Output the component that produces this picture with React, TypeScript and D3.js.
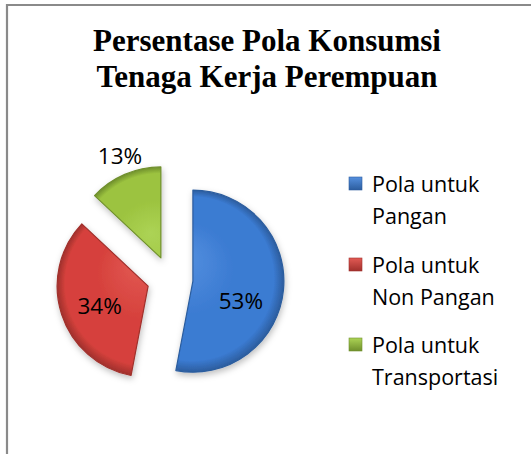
import React from "react";
import * as d3 from "d3";

const titleLines = ["Persentase Pola Konsumsi", "Tenaga Kerja Perempuan"];
const categories = ["Pola untuk Pangan", "Pola untuk Non Pangan", "Pola untuk Transportasi"];
const legendLines = [["Pola untuk", "Pangan"], ["Pola untuk", "Non Pangan"], ["Pola untuk", "Transportasi"]];
const values = [53, 34, 13];
const labels = ["53%", "34%", "13%"];

const baseColors = ["#3b7bd2", "#d6413c", "#9cc33f"];
const lightColors = ["#5590df", "#e25a54", "#acd355"];
const darkColors = ["#2c5d9e", "#a0302c", "#6f8f2c"];

const W = 531;
const H = 454;
const cx = 170;
const cy = 279;
const R = 91;
const explode = 23;
// label placement (fraction of radius along mid-angle, plus vertical nudge)
const labelLayout = [
  { k: 0.53, dy: 15 },
  { k: 0.56, dy: 4 },
  { k: 1.13, dy: -8 },
];

export default function App() {
  const pie = d3.pie<number>().sort(null).value((d) => d);
  const arcs = pie(values);
  const arc = d3.arc<d3.PieArcDatum<number>>().innerRadius(0).outerRadius(R);

  const legendX = 349;
  const legendTop = [177, 258, 338];

  return (
    <div style={{ position: "fixed", left: 0, top: 0, width: W, height: H, background: "#fff" }}>
      <svg width={W} height={H} style={{ display: "block" }}>
        <defs>
          <filter id="shadow" x="-30%" y="-30%" width="160%" height="160%">
            <feDropShadow dx="1" dy="3" stdDeviation="3" floodColor="#000" floodOpacity="0.25" />
          </filter>
          {arcs.map((a, i) => (
            <radialGradient
              key={i}
              id={`g${i}`}
              gradientUnits="userSpaceOnUse"
              cx={0}
              cy={0}
              r={R}
              fx={-10}
              fy={-25}
            >
              <stop offset="0%" stopColor={lightColors[i]} />
              <stop offset="50%" stopColor={baseColors[i]} />
              <stop offset="90%" stopColor={baseColors[i]} />
              <stop offset="100%" stopColor={darkColors[i]} />
            </radialGradient>
          ))}
          {baseColors.map((c, i) => (
            <linearGradient key={i} id={`lg${i}`} x1="0" y1="0" x2="0" y2="1">
              <stop offset="0%" stopColor={lightColors[i]} />
              <stop offset="100%" stopColor={darkColors[i]} />
            </linearGradient>
          ))}
        </defs>

        {/* frame */}
        <path d={`M7,${H + 5} L7,5 L${W + 5},5`} fill="none" stroke="#8a8a8a" strokeWidth={2.2} />

        {/* title */}
        <text
          x={267}
          textAnchor="middle"
          fontFamily="'Liberation Serif', 'Times New Roman', serif"
          fontWeight="bold"
          fontSize={31}
          fill="#000"
        >
          {titleLines.map((t, i) => (
            <tspan key={i} x={267} y={51 + i * 36}>
              {t}
            </tspan>
          ))}
        </text>

        {/* pie */}
        <g filter="url(#shadow)">
          {arcs.map((a, i) => {
            const mid = (a.startAngle + a.endAngle) / 2;
            const ax = cx + Math.sin(mid) * explode;
            const ay = cy - Math.cos(mid) * explode;
            return (
              <path
                key={categories[i]}
                d={arc(a) || ""}
                transform={`translate(${ax},${ay})`}
                fill={`url(#g${i})`}
                stroke={darkColors[i]}
                strokeWidth={1.2}
                strokeLinejoin="round"
              />
            );
          })}
        </g>

        {/* data labels */}
        {arcs.map((a, i) => {
          const mid = (a.startAngle + a.endAngle) / 2;
          const ax = cx + Math.sin(mid) * explode;
          const ay = cy - Math.cos(mid) * explode;
          const lx = ax + Math.sin(mid) * R * labelLayout[i].k;
          const ly = ay - Math.cos(mid) * R * labelLayout[i].k + labelLayout[i].dy;
          return (
            <text
              key={i}
              x={lx}
              y={ly}
              textAnchor="middle"
              dominantBaseline="central"
              fontFamily="'Open Sans', sans-serif"
              fontSize={22.5}
              fill="#000"
            >
              {labels[i]}
            </text>
          );
        })}

        {/* legend */}
        {legendLines.map((lines, i) => (
          <g key={i}>
            <rect
              x={legendX}
              y={legendTop[i]}
              width={13}
              height={13}
              fill={`url(#lg${i})`}
              stroke={darkColors[i]}
              strokeWidth={0.6}
            />
            <text fontFamily="'Open Sans', sans-serif" fontSize={21.5} fill="#000">
              {lines.map((t, j) => (
                <tspan key={j} x={372} y={legendTop[i] + 15 + j * 32}>
                  {t}
                </tspan>
              ))}
            </text>
          </g>
        ))}
      </svg>
    </div>
  );
}
